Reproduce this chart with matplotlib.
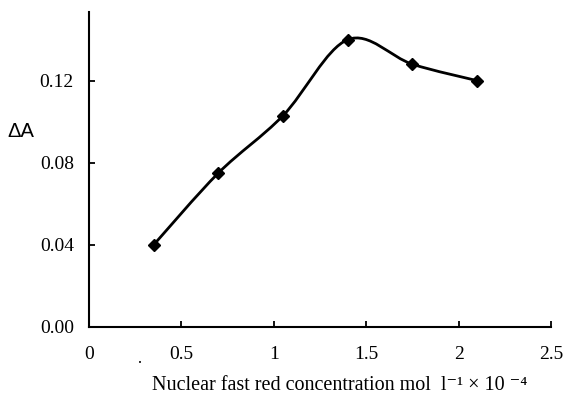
#!/usr/bin/env python3
"""Delta A vs nuclear fast red concentration."""
import matplotlib
matplotlib.use("Agg")
import matplotlib.pyplot as plt
from matplotlib.path import Path
from matplotlib.patches import PathPatch

# concentration (mol l^-1 x 10^-4) and absorbance change
conc = [0.35, 0.70, 1.05, 1.40, 1.75, 2.10]
delta_a = [0.040, 0.075, 0.103, 0.140, 0.128, 0.120]

x_ticks = [0, 0.5, 1, 1.5, 2, 2.5]
x_tick_labels = ["0", "0.5", "1", "1.5", "2", "2.5"]
y_ticks = [0.00, 0.04, 0.08, 0.12]
y_tick_labels = ["0.00", "0.04", "0.08", "0.12"]


def smooth_path(xs, ys):
    """Excel-style smoothed line as cubic Bezier segments."""
    pts = list(zip(xs, ys))
    n = len(pts)
    verts = [pts[0]]
    codes = [Path.MOVETO]
    for i in range(n - 1):
        p0 = pts[i - 1] if i > 0 else pts[i]
        p1 = pts[i]
        p2 = pts[i + 1]
        p3 = pts[i + 2] if i + 2 < n else pts[i + 1]
        c1 = (p1[0] + (p2[0] - p0[0]) / 6, p1[1] + (p2[1] - p0[1]) / 6)
        c2 = (p2[0] - (p3[0] - p1[0]) / 6, p2[1] - (p3[1] - p1[1]) / 6)
        verts += [c1, c2, p2]
        codes += [Path.CURVE4] * 3
    return Path(verts, codes)


fig = plt.figure(figsize=(5.64, 3.98), dpi=100)
ax = fig.add_axes([0.158, 0.179, 0.819, 0.791])

ax.add_patch(PathPatch(smooth_path(conc, delta_a), facecolor="none",
                       edgecolor="black", linewidth=2.0))
ax.plot(conc, delta_a, linestyle="none", marker="D", markersize=6.5,
        color="black")

ax.set_xlim(0, 2.5)
ax.set_ylim(0, 0.1535)
for side in ("top", "right"):
    ax.spines[side].set_visible(False)
for side in ("left", "bottom"):
    ax.spines[side].set_linewidth(1.5)

serif = ["Liberation Serif", "DejaVu Serif"]
ax.set_xticks(x_ticks)
ax.set_xticklabels(x_tick_labels, family=serif, fontsize=14)
ax.set_yticks(y_ticks)
ax.set_yticklabels(y_tick_labels, family=serif, fontsize=14)
ax.tick_params(axis="both", direction="in", length=4, width=1.3)
ax.tick_params(axis="x", pad=14)
ax.tick_params(axis="y", pad=11)

ax.set_xlabel("Nuclear fast red concentration mol  l\u207b\u00b9 \u00d7 10 \u207b\u2074",
              family=serif, fontsize=14.5, va="baseline")
ax.xaxis.set_label_coords(0.543, -0.2)
ax.set_ylabel("ΔA", family="Liberation Sans", fontsize=14.5, rotation=0,
              ha="center", va="center")
ax.yaxis.set_label_coords(-0.148, 0.62)

fig.text(140 / 564, 1 - 363 / 398, "\u2022", fontsize=5, ha="center",
         va="center")

fig.savefig("out.png", dpi=100)
